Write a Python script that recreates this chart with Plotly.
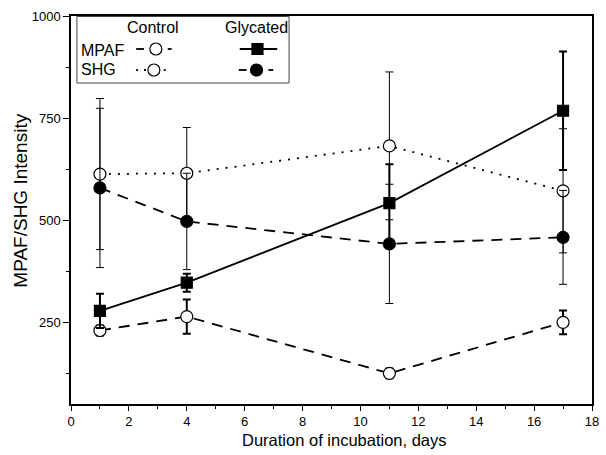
import plotly.graph_objects as go

days = [1, 4, 11, 17]
control_mpaf = [230, 264, 125, 250]
control_mpaf_err = [12, 42, 12, 29]
glycated_mpaf = [278, 347, 542, 768]
glycated_mpaf_err = [42, 22, 95, 145]
control_shg = [613, 615, 682, 572]
control_shg_err = [185, 112, 181, 152]
glycated_shg = [579, 497, 442, 458]
glycated_shg_err = [195, 118, 146, 115]

FONT = "Arial, Liberation Sans, sans-serif"
L, R, T, B = 71, 7, 16, 51
W, H = 606, 455

fig = go.Figure()

def add_series(y, err, dash, symbol, fill, ewidth):
    fig.add_trace(go.Scatter(
        x=days, y=y, mode="lines+markers",
        line=dict(color="black", width=1.8, dash=dash),
        marker=dict(symbol=symbol, size=12 if "circle" in symbol else 11,
                    color=fill, line=dict(color="black", width=1.2)),
        error_y=dict(type="data", array=err, visible=True, color="black",
                     thickness=ewidth, width=4),
        showlegend=False, hoverinfo="skip"))

add_series(control_shg, control_shg_err, "2px,7px", "circle", "white", 1)
add_series(glycated_shg, glycated_shg_err, "11px,8px", "circle", "black", 1)
add_series(control_mpaf, control_mpaf_err, "11px,8px", "circle", "white", 2)
add_series(glycated_mpaf, glycated_mpaf_err, "solid", "square", "black", 2)

def px(xp):
    return (xp - L) / (W - L - R)

def py(yp):
    return (H - B - yp) / (H - B - T)

# overlay axes in pixel units for the custom legend table
fig.update_layout(
    xaxis3=dict(domain=[0, 1], range=[L, W - R], visible=False, anchor="y3",
                overlaying="x", fixedrange=True),
    yaxis3=dict(domain=[0, 1], range=[H - B, T], visible=False, anchor="x3",
                overlaying="y", fixedrange=True),
)

fig.add_shape(type="rect", xref="paper", yref="paper", x0=px(77), x1=px(292),
              y0=py(16.5), y1=py(83), line=dict(color="#444", width=1),
              fillcolor="rgba(0,0,0,0)", layer="above")

N = None
legend_keys = [
    # (segments x, y, symbol, fill, marker x)
    ([137, 145, N, 169, 173], 49, "circle", "white", 157),
    ([242, 280], 49, "square", "black", 260),
    ([137, 139, N, 145, 147, N, 165, 167], 70, "circle", "white", 155),
    ([241, 249, N, 271, 276], 70, "circle", "black", 259),
]
for xs, yy, sym, fill, xm in legend_keys:
    fig.add_trace(go.Scatter(x=xs, y=[yy if v is not None else None for v in xs],
                             xaxis="x3", yaxis="y3", mode="lines", connectgaps=False,
                             line=dict(color="black", width=1.8),
                             showlegend=False, hoverinfo="skip"))
    fig.add_trace(go.Scatter(x=[xm], y=[yy], xaxis="x3", yaxis="y3", mode="markers",
                             marker=dict(symbol=sym, size=12 if sym == "circle" else 11,
                                         color=fill, line=dict(color="black", width=1.2)),
                             showlegend=False, hoverinfo="skip"))

for txt, x, y, anchor in [("Control", 154, 27, "center"), ("Glycated", 259, 27, "center"),
                          ("MPAF", 79, 50, "left"), ("SHG", 79, 70, "left")]:
    fig.add_annotation(text=txt, x=px(x), y=py(y), xref="paper", yref="paper",
                       showarrow=False, xanchor=anchor, yanchor="middle",
                       font=dict(family=FONT, size=16, color="black"))

# axis titles
fig.add_annotation(text="Duration of incubation, days", x=px(348), y=py(440),
                   xref="paper", yref="paper", showarrow=False,
                   xanchor="center", yanchor="middle",
                   font=dict(family=FONT, size=16.5, color="black"))
fig.add_annotation(text="MPAF/SHG Intensity", x=px(19), y=py(201),
                   xref="paper", yref="paper", showarrow=False, textangle=-90,
                   xanchor="center", yanchor="middle",
                   font=dict(family=FONT, size=19, color="black"))

axis_common = dict(showline=True, linecolor="black", linewidth=1.5, mirror=True,
                   ticks="outside", tickcolor="black", tickwidth=1.2,
                   showgrid=False, zeroline=False,
                   tickfont=dict(family=FONT, size=13, color="black"))

fig.update_layout(
    xaxis=dict(range=[0, 18], tickmode="linear", tick0=0, dtick=2, ticklen=5,
               minor=dict(dtick=1, ticklen=3, ticks="outside", tickcolor="black"),
               **axis_common),
    yaxis=dict(range=[50, 1000], tickmode="linear", tick0=0, dtick=250, ticklen=6,
               minor=dict(dtick=125, ticklen=3, ticks="outside", tickcolor="black"),
               **axis_common),
)

fig.update_layout(width=W, height=H, margin=dict(l=L, r=R, t=T, b=B),
                  plot_bgcolor="white", paper_bgcolor="white")

fig.write_html("out.html")
